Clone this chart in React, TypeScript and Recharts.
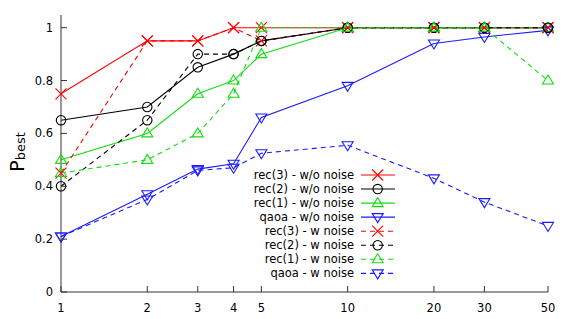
import { LineChart, Line, XAxis, YAxis, Legend } from "recharts";

const xValues = [1, 2, 3, 4, 5, 10, 20, 30, 50];
const yTicks = [0, 0.2, 0.4, 0.6, 0.8, 1];

const rec3Clean = [0.75, 0.95, 0.95, 1, 1, 1, 1, 1, 1];
const rec2Clean = [0.65, 0.7, 0.85, 0.9, 0.95, 1, 1, 1, 1];
const rec1Clean = [0.5, 0.6, 0.75, 0.8, 0.9, 1, 1, 1, 1];
const qaoaClean = [0.21, 0.37, 0.465, 0.485, 0.66, 0.78, 0.94, 0.965, 0.99];
const rec3Noisy = [0.45, 0.95, 0.95, 1, 0.95, 1, 1, 1, 1];
const rec2Noisy = [0.4, 0.65, 0.9, 0.9, 0.95, 1, 1, 1, 1];
const rec1Noisy = [0.45, 0.5, 0.6, 0.75, 1, 1, 1, 1, 0.8];
const qaoaNoisy = [0.21, 0.35, 0.46, 0.47, 0.525, 0.555, 0.43, 0.34, 0.25];

const FONT = "'DejaVu Sans', sans-serif";
const RED = "#ff0000";
const BLACK = "#000000";
const GREEN = "#11dd11";
const BLUE = "#1a1aff";
const FRAME = "#333333";

type Shape = "cross" | "circle" | "up" | "down";

const series = [
  { key: "rec3Clean", name: "rec(3) - w/o noise", values: rec3Clean, color: RED, shape: "cross" as Shape, dashed: false },
  { key: "rec2Clean", name: "rec(2) - w/o noise", values: rec2Clean, color: BLACK, shape: "circle" as Shape, dashed: false },
  { key: "rec1Clean", name: "rec(1) - w/o noise", values: rec1Clean, color: GREEN, shape: "up" as Shape, dashed: false },
  { key: "qaoaClean", name: "qaoa - w/o noise", values: qaoaClean, color: BLUE, shape: "down" as Shape, dashed: false },
  { key: "rec3Noisy", name: "rec(3) - w noise", values: rec3Noisy, color: RED, shape: "cross" as Shape, dashed: true },
  { key: "rec2Noisy", name: "rec(2) - w noise", values: rec2Noisy, color: BLACK, shape: "circle" as Shape, dashed: true },
  { key: "rec1Noisy", name: "rec(1) - w noise", values: rec1Noisy, color: GREEN, shape: "up" as Shape, dashed: true },
  { key: "qaoaNoisy", name: "qaoa - w noise", values: qaoaNoisy, color: BLUE, shape: "down" as Shape, dashed: true },
];

const data = xValues.map((x, i) => {
  const row: Record<string, number> = { x };
  series.forEach((s) => (row[s.key] = s.values[i]));
  return row;
});

function Marker({ cx, cy, shape, color }: { cx: number; cy: number; shape: Shape; color: string }) {
  const p = { fill: "none", stroke: color, strokeWidth: 1.1 };
  if (shape === "cross") {
    const r = 5.5;
    return <path d={`M${cx - r},${cy - r}L${cx + r},${cy + r}M${cx - r},${cy + r}L${cx + r},${cy - r}`} {...p} />;
  }
  if (shape === "circle") return <circle cx={cx} cy={cy} r={4.7} {...p} />;
  if (shape === "up")
    return <path d={`M${cx},${cy - 5.5}L${cx + 5.5},${cy + 3.5}L${cx - 5.5},${cy + 3.5}Z`} {...p} />;
  return <path d={`M${cx},${cy + 5.5}L${cx + 5.5},${cy - 3.5}L${cx - 5.5},${cy - 3.5}Z`} {...p} />;
}

const makeDot = (shape: Shape, color: string) => (props: any) => {
  const { cx, cy, index } = props;
  if (cx == null || cy == null) return <g key={index} />;
  return <Marker key={index} cx={cx} cy={cy} shape={shape} color={color} />;
};

const BottomTick = (props: any) => {
  const { x, y, payload } = props;
  return (
    <g>
      <line x1={x} x2={x} y1={y} y2={y - 6} stroke={FRAME} />
      <text x={x} y={y + 20} textAnchor="middle" fontFamily={FONT} fontSize={11.5} fill="#000">
        {payload.value}
      </text>
    </g>
  );
};

const TopTick = (props: any) => {
  const { x, y } = props;
  return <line x1={x} x2={x} y1={y} y2={y + 6} stroke={FRAME} />;
};

const LeftTick = (props: any) => {
  const { x, y, payload } = props;
  return (
    <g>
      <line x1={x} x2={x + 6} y1={y} y2={y} stroke={FRAME} />
      <text x={x - 8} y={y + 4} textAnchor="end" fontFamily={FONT} fontSize={11.5} fill="#000">
        {String(payload.value)}
      </text>
    </g>
  );
};

const RightTick = (props: any) => {
  const { x, y } = props;
  return <line x1={x} x2={x - 6} y1={y} y2={y} stroke={FRAME} />;
};

const YLabel = () => (
  <text transform="translate(24,152) rotate(-90)" textAnchor="middle" fontFamily={FONT} fill="#000">
    <tspan fontSize={19}>P</tspan>
    <tspan fontSize={13} dy={1}>best</tspan>
  </text>
);

const LegendBox = () => (
  <svg width={160} height={115}>
    {series.map((s, i) => {
      const y = 9 + i * 14.05;
      return (
        <g key={s.key}>
          <text x={114} y={y + 4} textAnchor="end" fontFamily={FONT} fontSize={11.5} fill="#000">
            {s.name}
          </text>
          <line x1={121} x2={155} y1={y} y2={y} stroke={s.color} strokeWidth={1.1} strokeDasharray={s.dashed ? "5 4" : undefined} />
          <Marker cx={137.7} cy={y} shape={s.shape} color={s.color} />
        </g>
      );
    })}
  </svg>
);

export default function App() {
  return (
    <div style={{ position: "absolute", left: 0, top: 0, width: 568, height: 319, background: "#fff" }}>
      <LineChart width={568} height={319} data={data} margin={{ top: 15, right: 20, bottom: 0, left: 0 }}>
        <XAxis
          dataKey="x"
          type="number"
          scale="log"
          domain={[1, 50]}
          ticks={xValues}
          height={27}
          tickSize={0}
          tickMargin={0}
          tick={BottomTick}
          axisLine={{ stroke: FRAME }}
          interval={0}
        />
        <XAxis
          xAxisId="top"
          orientation="top"
          dataKey="x"
          type="number"
          scale="log"
          domain={[1, 50]}
          ticks={xValues}
          height={0}
          tickSize={0}
          tickMargin={0}
          tick={TopTick}
          axisLine={{ stroke: FRAME }}
          interval={0}
        />
        <YAxis
          type="number"
          domain={[0, 1.048]}
          ticks={yTicks}
          width={61}
          tickSize={0}
          tickMargin={0}
          tick={LeftTick}
          axisLine={{ stroke: FRAME }}
          interval={0}
          label={<YLabel />}
        />
        <YAxis
          yAxisId="right"
          orientation="right"
          type="number"
          domain={[0, 1.048]}
          ticks={yTicks}
          width={0}
          tickSize={0}
          tickMargin={0}
          tick={RightTick}
          axisLine={{ stroke: FRAME }}
          interval={0}
        />
        <Legend
          layout="vertical"
          align="center"
          verticalAlign="middle"
          content={() => <LegendBox />}
          wrapperStyle={{ left: 240, top: 166, width: 160 }}
        />
        {series.map((s) => (
          <Line
            key={s.key}
            dataKey={s.key}
            name={s.name}
            stroke={s.color}
            strokeWidth={1.1}
            strokeDasharray={s.dashed ? "5 4" : undefined}
            dot={makeDot(s.shape, s.color)}
            activeDot={false}
            type="linear"
            isAnimationActive={false}
          />
        ))}
      </LineChart>
    </div>
  );
}
